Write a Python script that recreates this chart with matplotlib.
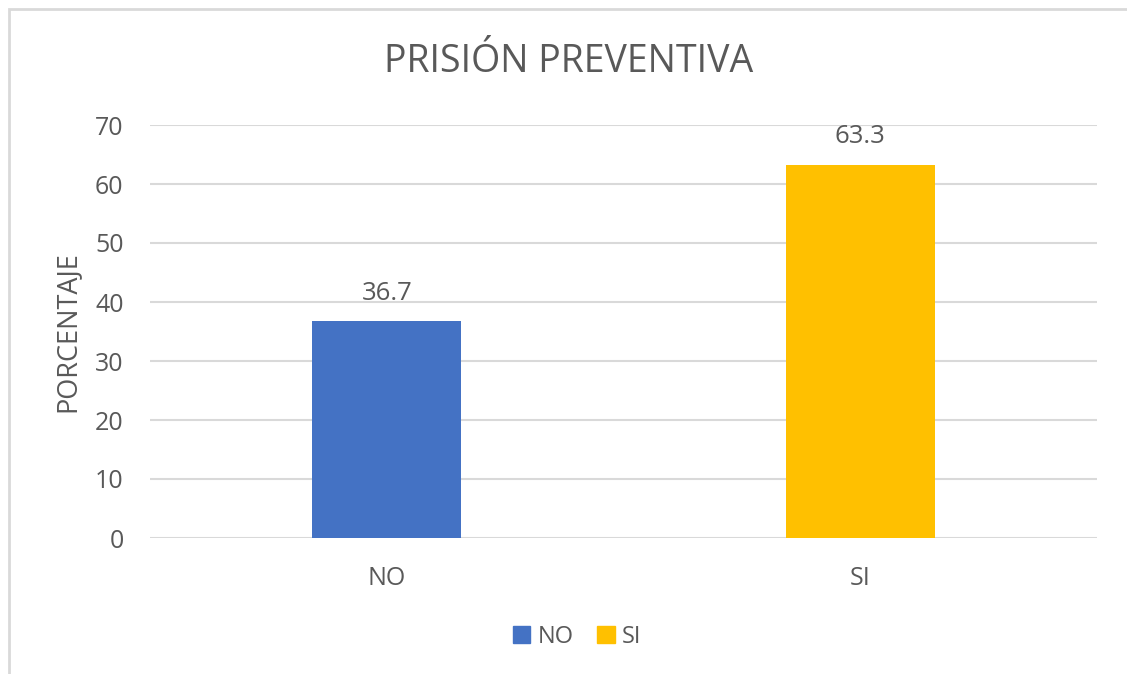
import matplotlib.pyplot as plt
from matplotlib.patches import Rectangle, Patch

# Datos
categorias = ['NO', 'SI']
porcentajes = [36.7, 63.3]
colores = ['#4472C4', '#FFC000']
yticks = [0, 10, 20, 30, 40, 50, 60, 70]

plt.rcParams['font.family'] = ['Open Sans', 'DejaVu Sans']
gris = '#595959'

fig = plt.figure(figsize=(11.27, 6.74), dpi=100)
ax = fig.add_axes([150 / 1127, 1 - 538 / 674, 947 / 1127, 413 / 674])

x = range(len(categorias))
bars = ax.bar(x, porcentajes, width=0.315, color=colores, zorder=3)

for b, v in zip(bars, porcentajes):
    ax.annotate(f'{v}', (b.get_x() + b.get_width() / 2, v), xytext=(0, 11),
                textcoords='offset points', ha='center', va='bottom',
                fontsize=18.5, color=gris)

ax.set_xlim(-0.5, 1.5)
ax.set_ylim(0, 70)
ax.set_yticks(yticks)
ax.set_xticks(list(x))
ax.set_xticklabels(categorias)
ax.grid(axis='y', color='#d9d9d9', linewidth=1.5, zorder=0)
for s in ax.spines.values():
    s.set_visible(False)
ax.tick_params(axis='both', length=0, labelsize=18, labelcolor=gris)
ax.tick_params(axis='y', pad=19)
ax.tick_params(axis='x', pad=20)

ax.set_ylabel('PORCENTAJE', fontsize=19.5, color=gris, labelpad=10)
fig.text(569 / 1127, 1 - 62 / 674, 'PRISIÓN PREVENTIVA', ha='center', va='center',
         fontsize=27, color=gris)

handles = [Patch(color=c, label=l) for c, l in zip(colores, categorias)]
fig.legend(handles=handles, loc='center', bbox_to_anchor=(577 / 1127, 1 - 637 / 674),
           ncol=2, frameon=False, fontsize=17, labelcolor=gris,
           handlelength=0.75, handleheight=0.75, handletextpad=0.3, columnspacing=1.0)

# borde del grafico (cortado a la derecha y abajo)
fig.patches.append(Rectangle((9 / 1127, -0.1), 1.2, 1 - 9 / 674 + 0.1,
                             transform=fig.transFigure, fill=False,
                             edgecolor='#d9d9d9', linewidth=2))

fig.savefig('out.png', dpi=100)
